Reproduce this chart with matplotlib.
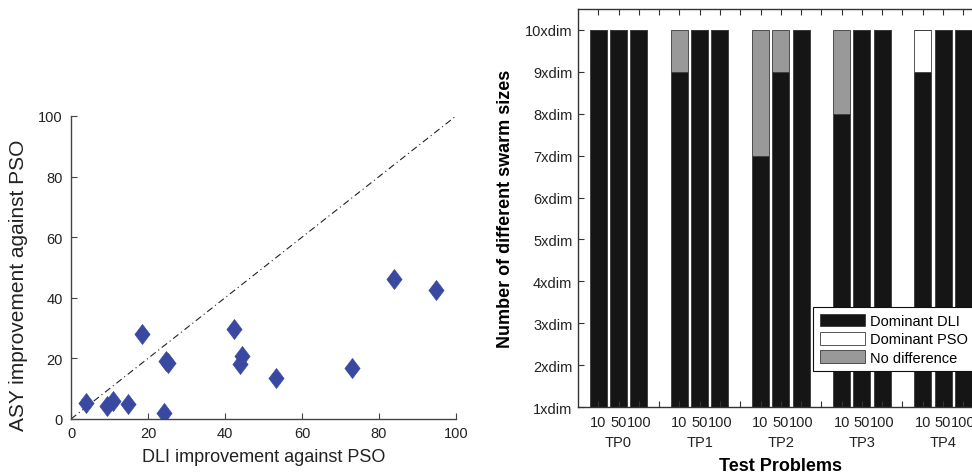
import matplotlib
matplotlib.use("Agg")
import matplotlib.pyplot as plt
from matplotlib.path import Path
import numpy as np

plt.rcParams['font.family'] = ['Liberation Sans', 'DejaVu Sans']

# ---- Left panel data ----
dli_improvement = [3.8, 9.3, 10.8, 14.7, 18.5, 24.2, 24.7, 25.3, 42.3, 44.4, 43.8, 53.2, 72.9, 83.9, 94.9]
asy_improvement = [5.3, 4.4, 6.0, 4.9, 28.0, 2.0, 19.2, 18.4, 29.7, 20.7, 18.1, 13.4, 16.9, 46.2, 42.5]
diag = [0, 100]
left_ticks = [0, 20, 40, 60, 80, 100]

# ---- Right panel data ----
problems = ['TP0', 'TP1', 'TP2', 'TP3', 'TP4']
swarm_sizes = ['10', '50', '100']
dominant_dli = [[10, 10, 10], [9, 10, 10], [7, 9, 10], [8, 10, 10], [9, 10, 10]]
dominant_pso = [[0, 0, 0], [0, 0, 0], [0, 0, 0], [0, 0, 0], [1, 0, 0]]
no_difference = [[0, 0, 0], [1, 0, 0], [3, 1, 0], [2, 0, 0], [0, 0, 0]]
ytick_vals = list(range(1, 11))
ytick_labels = [f'{v}xdim' for v in ytick_vals]

fig = plt.figure(figsize=(9.72, 4.77), dpi=100)

# tall diamond marker (MATLAB-like)
diamond = Path([(0, 1), (0.76, 0), (0, -1), (-0.76, 0), (0, 1)],
               [Path.MOVETO, Path.LINETO, Path.LINETO, Path.LINETO, Path.CLOSEPOLY])

# ---------------- Left scatter ----------------
W, H = 972, 477
axL = fig.add_axes([71 / W, 1 - 420 / H, (456 - 71) / W, (420 - 117) / H])
axL.plot(diag, diag, color='#222222', lw=0.8, ls='-.', dashes=(6, 3, 1, 3))
axL.plot(dli_improvement, asy_improvement, ls='none', marker=diamond, ms=14.5,
         mfc='#3949A2', mec='#3949A2', mew=0.4)
axL.set_xlim(0, 100)
axL.set_ylim(0, 100)
axL.set_xticks(left_ticks)
axL.set_yticks(left_ticks)
for s in ['top', 'right']:
    axL.spines[s].set_visible(False)
for s in ['left', 'bottom']:
    axL.spines[s].set_color('#444444')
    axL.spines[s].set_linewidth(1.0)
axL.tick_params(direction='in', length=4, width=0.8, color='#444444',
                labelsize=10.5, labelcolor='#222222')
axL.tick_params(axis='x', pad=5)
axL.tick_params(axis='y', pad=6)
axL.set_xlabel('DLI improvement against PSO', fontsize=13, color='#222222', labelpad=6)
axL.set_ylabel('ASY improvement against PSO', fontsize=15, color='#222222')
axL.yaxis.set_label_coords(18 / 385 - 71 / 385, (420 - 285) / 303)
axL.yaxis.label.set_va('center')

# ---------------- Right stacked bars ----------------
px_unit = 20.28
axR = fig.add_axes([578 / W, 1 - 408 / H, 20 * px_unit / W, (408 - 10) / H])
positions = []
for g in range(len(problems)):
    for i in range(len(swarm_sizes)):
        positions.append(4 * g + i + 1)
dli_flat = np.array(dominant_dli).ravel()
pso_flat = np.array(dominant_pso).ravel()
nd_flat = np.array(no_difference).ravel()

bw = 0.84
ec = '#3a3a3a'
axR.bar(positions, dli_flat, width=bw, bottom=0, color='#151515', edgecolor=ec, lw=0.6,
        label='Dominant DLI')
axR.bar(positions, pso_flat, width=bw, bottom=dli_flat, color='white', edgecolor=ec, lw=0.6,
        label='Dominant PSO')
axR.bar(positions, nd_flat, width=bw, bottom=dli_flat + pso_flat, color='#999999',
        edgecolor=ec, lw=0.6, label='No difference')

axR.set_xlim(0, 20)
axR.set_ylim(1, 10.5)
axR.set_yticks(ytick_vals)
axR.set_yticklabels(ytick_labels)
axR.set_xticks(range(1, 20))
xl = []
for g in range(len(problems)):
    xl += swarm_sizes + ['']
axR.set_xticklabels(xl[:19])
axR.tick_params(direction='in', length=4, width=0.8, color='#333333',
                labelsize=10.5, labelcolor='#222222', top=True, right=True)
axR.tick_params(axis='x', pad=6)
axR.tick_params(axis='y', pad=4)
for s in axR.spines.values():
    s.set_color('#333333')
    s.set_linewidth(1.0)

for g, name in enumerate(problems):
    axR.text(4 * g + 2, -0.07, name, transform=axR.get_xaxis_transform(),
             ha='center', va='top', fontsize=10.5, color='#222222')

axR.set_xlabel('Test Problems', fontsize=13, fontweight='bold', labelpad=20)
axR.set_ylabel('Number of different swarm sizes', fontsize=13, fontweight='bold', labelpad=8)

leg = axR.legend(loc='upper left', bbox_to_anchor=(813 / W, 1 - 308 / H),
                 bbox_transform=fig.transFigure, fontsize=10.5, frameon=True,
                 fancybox=False, framealpha=1, edgecolor='#111111',
                 handlelength=3.1, handleheight=0.95, handletextpad=0.35,
                 labelspacing=0.28, borderpad=0.45, borderaxespad=0)
leg.get_frame().set_linewidth(0.8)

fig.savefig('out.png', dpi=100)
